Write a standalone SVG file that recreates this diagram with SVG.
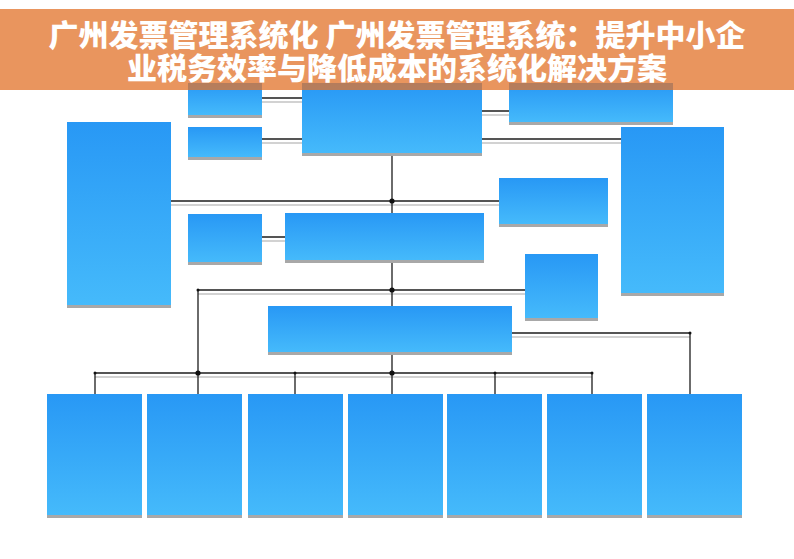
<svg xmlns="http://www.w3.org/2000/svg" width="794" height="559" viewBox="0 0 794 559">
<defs>
<linearGradient id="bg" x1="0" y1="0" x2="0" y2="1">
<stop offset="0" stop-color="#2898F5"/>
<stop offset="1" stop-color="#45BAFB"/>
</linearGradient>
<style>
.box{fill:url(#bg)}
.sh{fill:#A8A8A8}
.ln{fill:none;stroke:#1E1E1E;stroke-width:1.3}
.lns{fill:none;stroke:#C4C4C4;stroke-width:1.6}
.dot{fill:#111}
.title{font-family:"Noto Sans CJK SC","Noto Sans",sans-serif;font-weight:900;font-size:30px;fill:#FFFFFF;text-anchor:middle}
</style>
</defs>
<rect x="0" y="0" width="794" height="559" fill="#FFFFFF"/>
<g id="connectors">
<g transform="translate(0,4)">
<path class="lns" d="M262,98H302M262,139H302M482,111H509M482,139H621M171,201H499M262,237H285M198,290H525M95,373H592M512,333H690"/>
</g>
<path class="ln" d="M262,98H302M262,139H302M482,111H509M482,139H621M171,201H499M392,153V213M262,237H285M392,260V306M198,290H525M198,290V394M392,352V394M95,373H592M95,373V394M295,373V394M495,373V394M592,373V394M512,333H690V394"/>
<circle class="dot" cx="392" cy="201" r="2.6"/>
<circle class="dot" cx="392" cy="290" r="2.6"/>
<circle class="dot" cx="198" cy="373" r="2.6"/>
<circle class="dot" cx="392" cy="373" r="2.6"/>
<circle class="dot" cx="198" cy="290" r="1.5"/>
<circle class="dot" cx="95" cy="373" r="1.5"/>
<circle class="dot" cx="295" cy="373" r="1.5"/>
<circle class="dot" cx="495" cy="373" r="1.5"/>
<circle class="dot" cx="592" cy="373" r="1.5"/>
<circle class="dot" cx="690" cy="333" r="1.5"/>
</g>
<g id="nodeA"><rect class="sh" x="188" y="86" width="74" height="32"/><rect class="box" x="188" y="83" width="74" height="32"/></g>
<g id="nodeB"><rect class="sh" x="302" y="86" width="180" height="70"/><rect class="box" x="302" y="83" width="180" height="70"/></g>
<g id="nodeC"><rect class="sh" x="509" y="86" width="164" height="39"/><rect class="box" x="509" y="83" width="164" height="39"/></g>
<g id="nodeD"><rect class="sh" x="188" y="130" width="74" height="30"/><rect class="box" x="188" y="127" width="74" height="30"/></g>
<g id="nodeE"><rect class="sh" x="621" y="130" width="103" height="166"/><rect class="box" x="621" y="127" width="103" height="166"/></g>
<g id="nodeF"><rect class="sh" x="499" y="181" width="109" height="46"/><rect class="box" x="499" y="178" width="109" height="46"/></g>
<g id="nodeH"><rect class="sh" x="67" y="125" width="104" height="183"/><rect class="box" x="67" y="122" width="104" height="183"/></g>
<g id="nodeI"><rect class="sh" x="188" y="217" width="74" height="48"/><rect class="box" x="188" y="214" width="74" height="48"/></g>
<g id="nodeJ"><rect class="sh" x="285" y="216" width="199" height="47"/><rect class="box" x="285" y="213" width="199" height="47"/></g>
<g id="nodeG"><rect class="sh" x="525" y="257" width="73" height="64"/><rect class="box" x="525" y="254" width="73" height="64"/></g>
<g id="nodeK"><rect class="sh" x="268" y="309" width="244" height="46"/><rect class="box" x="268" y="306" width="244" height="46"/></g>
<g id="nodeL1"><rect class="sh" x="47" y="397" width="95" height="121"/><rect class="box" x="47" y="394" width="95" height="121"/></g>
<g id="nodeL2"><rect class="sh" x="147" y="397" width="95" height="121"/><rect class="box" x="147" y="394" width="95" height="121"/></g>
<g id="nodeL3"><rect class="sh" x="248" y="397" width="95" height="121"/><rect class="box" x="248" y="394" width="95" height="121"/></g>
<g id="nodeL4"><rect class="sh" x="348" y="397" width="95" height="121"/><rect class="box" x="348" y="394" width="95" height="121"/></g>
<g id="nodeL5"><rect class="sh" x="447" y="397" width="95" height="121"/><rect class="box" x="447" y="394" width="95" height="121"/></g>
<g id="nodeL6"><rect class="sh" x="547" y="397" width="95" height="121"/><rect class="box" x="547" y="394" width="95" height="121"/></g>
<g id="nodeL7"><rect class="sh" x="647" y="397" width="95" height="121"/><rect class="box" x="647" y="394" width="95" height="121"/></g>
<g id="title">
<rect x="0" y="9" width="794" height="81" fill="#E2742C" fill-opacity="0.76"/>
<text class="title" x="397" y="46">广州发票管理系统化 广州发票管理系统：提升中小企</text>
<text class="title" x="397" y="79">业税务效率与降低成本的系统化解决方案</text>
</g>
</svg>
